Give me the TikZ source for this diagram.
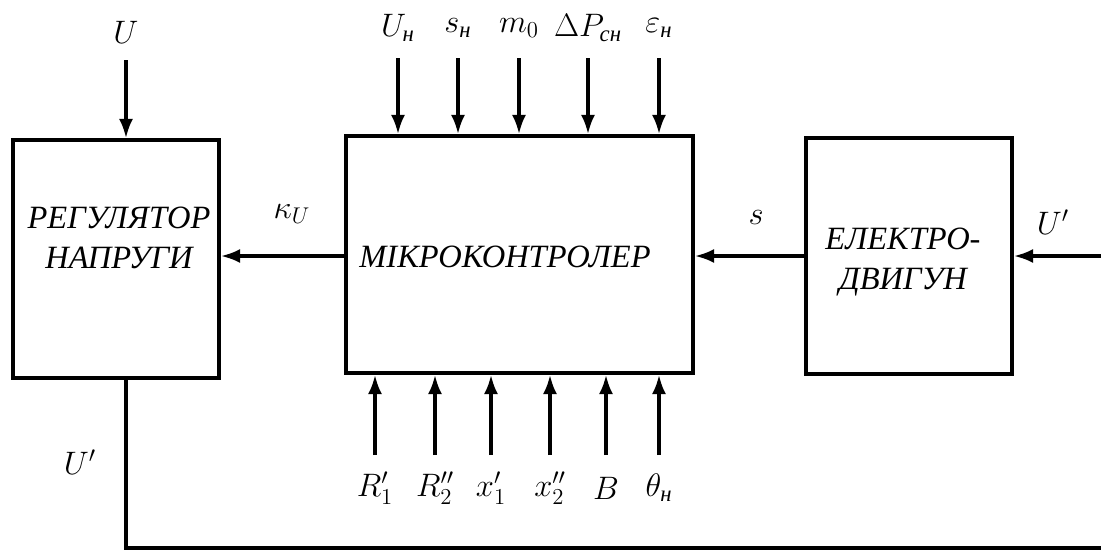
\documentclass[tikz,border=0pt]{standalone}
\usepackage{fix-cm}
\usepackage{fontspec}
\setmainfont{Liberation Serif}
\usepackage{amsmath}
\usetikzlibrary{arrows.meta,positioning,calc}

\tikzset{
  blok/.style={draw,line width=2pt,inner sep=0pt},
  blokt/.style={align=center,font=\fontsize{18.5}{22.5}\selectfont\itshape,inner sep=0pt},
  sig/.style={line width=2pt,-{Latex[length=11pt,width=8pt]}},
  lbl/.style={font=\fontsize{18.5}{22}\selectfont,inner sep=1pt},
}
\newcommand{\cyr}[1]{\text{\itshape #1}}

\begin{document}
\begin{tikzpicture}[x=0.02cm,y=-0.02cm]
    \useasboundingbox (0,0) rectangle (1101,552);

    % blocks
    \node[blok,minimum width=4.12cm,minimum height=4.76cm] (reg) at (116,259) {};
    \node[blok,minimum width=6.94cm,minimum height=4.74cm] (mk) at (519.5,254.5) {};
    \node[blok,minimum width=4.12cm,minimum height=4.72cm] (dv) at (909,256) {};

    \node[blokt] (regt) at (119,238) {РЕГУЛЯТОР\\НАПРУГИ};
    \node[blokt] (mkt) at (505,257) {МІКРОКОНТРОЛЕР};
    \node[blokt] (dvt) at (903,262) {ЕЛЕКТРО-\\ДВИГУН};

    % supply voltage
    \node[lbl] (u) at (126,32) {$U$};
    \coordinate (u0) at (126,60);
    \draw[sig] (u0) -- (u0 |- reg.north);

    % top inputs
    \foreach \x/\t [count=\i] in {398/U_{\cyr{н}}, 458/s_{\cyr{н}}, 519/m_0, 588/\Delta P_{\cyr{сн}}, 659/\varepsilon_{\cyr{н}}}{
      \node[lbl] (top\i) at (\x,28) {$\t$};
      \coordinate (tc\i) at (\x,58);
      \draw[sig] (tc\i) -- (tc\i |- mk.north);
    }

    % bottom inputs
    \foreach \x/\t [count=\i] in {375/R_1^{\prime}, 435/R_2^{\prime\prime}, 491/x_1^{\prime}, 550/x_2^{\prime\prime}, 606/B, 659/\theta_{\cyr{н}}}{
      \node[lbl] (bot\i) at (\x,488) {$\t$};
      \coordinate (bc\i) at (\x,455);
      \draw[sig] (bc\i) -- (bc\i |- mk.south);
    }

    % signals between blocks
    \draw[sig] (dv.west) -- (mk.east |- dv.west);
    \node[lbl] (s) at (756,217) {$s$};
    \draw[sig] (mk.west |- dv.west) -- (reg.east |- dv.west);
    \node[lbl] (ku) at (292,214) {$\kappa_U$};

    \coordinate (uin) at (1101,256);
    \draw[sig] (uin) -- (dv.east |- uin);
    \node[lbl] (ur) at (1053,222) {$U^{\prime}$};

    % feedback
    \coordinate (fb) at (126,548);
    \coordinate (fbe) at (1101,548);
    \draw[line width=2pt] (reg.south -| fb) -- (fb) -- (fbe);
    \node[lbl] (ul) at (80,462) {$U^{\prime}$};
\end{tikzpicture}
\end{document}
